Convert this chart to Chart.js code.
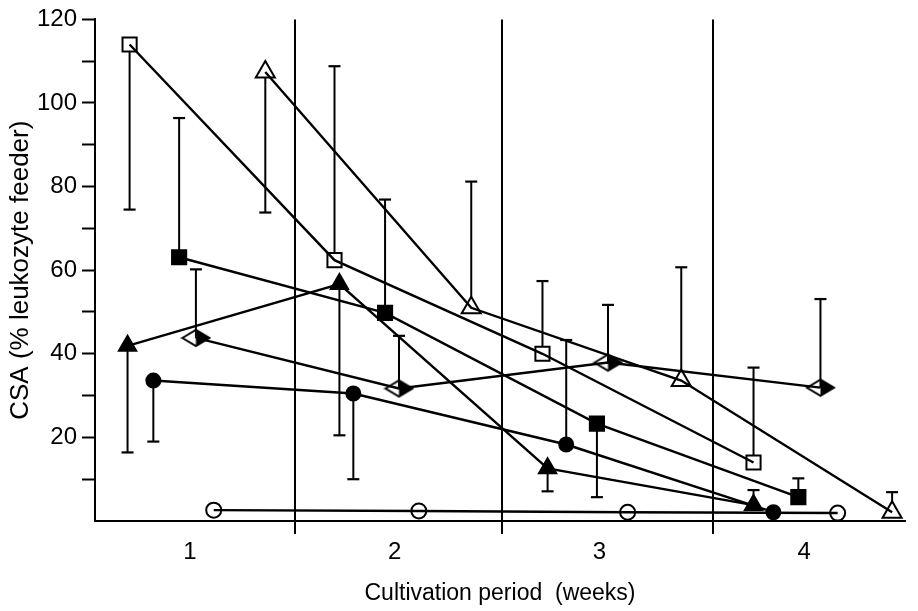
<!DOCTYPE html>
<html lang="en">

<head>
  <meta charset="UTF-8" />
  <title>CSA over cultivation period</title>
  <script src="https://cdn.jsdelivr.net/npm/chart.js@4.4.0/dist/chart.umd.min.js"></script>
  <style>
    html, body { margin: 0; padding: 0; background: #fff; }
    .wrapper { width: 918px; height: 611px; }
  </style>
</head>

<body>
  <div class="wrapper"><canvas id="csaChart" width="918" height="611"></canvas></div>
</body>
<script>
  // weeks on the x axis, dividers between the weeks
  const week_ticks = [1, 2, 3, 4];
  const week_dividers = [1.513, 2.524, 3.554];
  const y_ticks = [0, 10, 20, 30, 40, 50, 60, 70, 80, 90, 100, 110, 120];

  // open square
  const sq_open_x = [0.705, 1.706, 2.722, 3.753];
  const sq_open_y = [114, 62.4, 40, 14];
  const sq_open_err = [74.5, 108.8, 57.4, 36.7];
  // open triangle
  const tri_open_x = [1.368, 2.374, 3.40, 4.43];
  const tri_open_y = [107.4, 51, 33.6, 2.1];
  const tri_open_err = [73.8, 81.2, 60.7, 6.9];
  // filled square
  const sq_fill_x = [0.947, 1.953, 2.988, 3.972];
  const sq_fill_y = [63.1, 49.8, 23.3, 5.7];
  const sq_fill_err = [96.4, 76.9, 5.7, 10.2];
  // filled triangle
  const tri_fill_x = [0.695, 1.73, 2.747, 3.753];
  const tri_fill_y = [41.9, 56.7, 12.6, 3.8];
  const tri_fill_err = [16.4, 20.5, 7.1, 7.4];
  // filled circle
  const dot_x = [0.821, 1.798, 2.838, 3.85];
  const dot_y = [33.6, 30.5, 18.3, 2.1];
  const dot_err = [19.0, 10.0, 43.3, null];
  // half filled diamond
  const dia_x = [1.029, 2.021, 3.042, 4.08];
  const dia_y = [43.8, 31.7, 37.9, 31.9];
  const dia_err = [60.2, 44.3, 51.7, 53.1];
  // open circle
  const ring_x = [1.116, 2.118, 3.138, 4.164];
  const ring_y = [2.6, 2.4, 2.1, 1.9];
  const ring_err = [null, null, null, null];

  // diamond marker: left half white, right half black
  function make_diamond() {
    var c = document.createElement('canvas');
    c.width = 31; c.height = 20;
    var g = c.getContext('2d');
    g.beginPath(); g.moveTo(15.5, 2); g.lineTo(15.5, 18); g.lineTo(29, 10); g.closePath();
    g.fillStyle = '#000'; g.fill();
    g.beginPath(); g.moveTo(2, 10); g.lineTo(15.5, 2); g.lineTo(29, 10); g.lineTo(15.5, 18); g.closePath();
    g.lineWidth = 2; g.strokeStyle = '#000'; g.stroke();
    return c;
  }

  function pts(xs, ys) {
    var out = [];
    for (var i in xs) out.push({x: xs[i], y: ys[i]});
    return out;
  }

  const series = [
    {x: sq_open_x, y: sq_open_y, err: sq_open_err, style: 'rect', radius: 10, fill: '#fff'},
    {x: tri_open_x, y: tri_open_y, err: tri_open_err, style: 'triangle', radius: 11, fill: '#fff'},
    {x: sq_fill_x, y: sq_fill_y, err: sq_fill_err, style: 'rect', radius: 10, fill: '#000'},
    {x: tri_fill_x, y: tri_fill_y, err: tri_fill_err, style: 'triangle', radius: 10, fill: '#000'},
    {x: dot_x, y: dot_y, err: dot_err, style: 'circle', radius: 7, fill: '#000'},
    {x: dia_x, y: dia_y, err: dia_err, style: make_diamond(), radius: 10, fill: '#000'},
    {x: ring_x, y: ring_y, err: ring_err, style: 'circle', radius: 7.5, fill: '#fff'}
  ];

  var datasets = [];
  // lines first so every marker sits on top
  series.forEach(function (s) {
    datasets.push({
      data: pts(s.x, s.y), showLine: true, borderColor: '#000', borderWidth: 2.4,
      pointRadius: 0, tension: 0, fill: false
    });
  });
  series.forEach(function (s) {
    datasets.push({
      data: pts(s.x, s.y), showLine: false, pointStyle: s.style,
      pointRadius: s.radius, pointBackgroundColor: s.fill,
      pointBorderColor: '#000', pointBorderWidth: 2
    });
  });

  // one-sided error bars, drawn under lines and markers
  const errorBars = {
    id: 'errorBars',
    beforeDatasetsDraw(chart) {
      var ctx = chart.ctx, xs = chart.scales.x, ys = chart.scales.y;
      ctx.save();
      ctx.strokeStyle = '#000';
      series.forEach(function (s) {
        for (var i in s.x) {
          if (s.err[i] == null) continue;
          var px = xs.getPixelForValue(s.x[i]);
          var p0 = ys.getPixelForValue(s.y[i]);
          var p1 = ys.getPixelForValue(s.err[i]);
          ctx.lineWidth = 2;
          ctx.beginPath(); ctx.moveTo(px, p0); ctx.lineTo(px, p1); ctx.stroke();
          ctx.lineWidth = 2.2;
          ctx.beginPath(); ctx.moveTo(px - 6, p1); ctx.lineTo(px + 6, p1); ctx.stroke();
        }
      });
      ctx.restore();
    }
  };

  Chart.defaults.font.family = "'Liberation Sans', Arial, Helvetica, sans-serif";
  Chart.defaults.color = '#000';

  const config = {
    type: 'scatter',
    data: { datasets: datasets },
    options: {
      responsive: false,
      animation: false,
      events: [],
      layout: { padding: { top: 17, right: 5, left: 0, bottom: 0 } },
      plugins: { legend: { display: false }, tooltip: { enabled: false } },
      scales: {
        x: {
          type: 'linear',
          min: 0.536,
          max: 4.493,
          afterBuildTicks: function (scale) {
            scale.ticks = week_ticks.concat(week_dividers).sort(function (a, b) { return a - b; })
              .map(function (v) { return {value: v}; });
          },
          afterFit: function (scale) { scale.height = 90; },
          ticks: {
            autoSkip: false, maxRotation: 0, padding: 4,
            font: { size: 24 },
            callback: function (v) { return week_ticks.indexOf(v) >= 0 ? String(v) : ''; }
          },
          grid: {
            drawOnChartArea: true, drawTicks: true, tickLength: 13,
            color: function (c) { return c.tick && week_dividers.indexOf(c.tick.value) >= 0 ? '#000' : 'rgba(0,0,0,0)'; },
            lineWidth: 2
          },
          border: { display: true, color: '#000', width: 2 },
          title: {
            display: true, text: 'Cultivation period  (weeks)',
            font: { size: 23 }, padding: { top: 6, bottom: 4 }
          }
        },
        y: {
          min: 0,
          max: 120,
          afterBuildTicks: function (scale) {
            scale.ticks = y_ticks.map(function (v) { return {value: v}; });
          },
          afterFit: function (scale) { scale.width = 95; },
          ticks: {
            padding: 5, font: { size: 24 },
            callback: function (v) { return (v > 0 && v % 20 === 0) ? String(v) : ''; }
          },
          grid: {
            drawOnChartArea: false, drawTicks: true, tickLength: 13,
            tickColor: function (c) { return c.tick && c.tick.value === 0 ? 'rgba(0,0,0,0)' : '#000'; },
            tickWidth: 2
          },
          border: { display: true, color: '#000', width: 2 },
          title: {
            display: true, text: 'CSA (% leukozyte feeder)',
            font: { size: 26 }, padding: { top: 5, bottom: 0 }
          }
        }
      }
    },
    plugins: [errorBars]
  };

  new Chart('csaChart', config);
</script>
</html>
